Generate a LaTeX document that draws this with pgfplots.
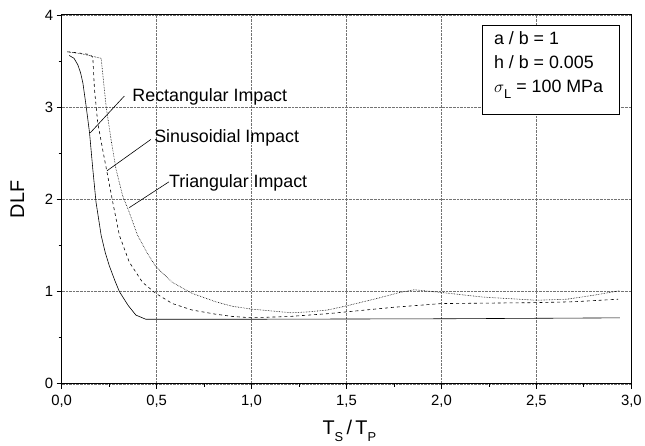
\documentclass[border=0pt]{standalone}
\usepackage{fontspec}
\setmainfont{Liberation Sans}
\usepackage{pgfplots}
\pgfplotsset{compat=1.18}

\newcommand{\sub}[1]{\raisebox{-0.35em}{\fontsize{13}{13}\selectfont #1}}

\begin{document}
\begin{tikzpicture}
\begin{axis}[
  scale only axis,
  width=573bp, height=371bp,
  xmin=0, xmax=3, ymin=0, ymax=4,
  xtick={0,0.5,...,3}, ytick={0,1,2,3,4},
  minor x tick num=1, minor y tick num=1,
  xtick pos=left, ytick pos=left,
  tick align=outside,
  major tick length=5bp, minor tick length=3bp,
  every tick/.style={black, line width=0.8bp},
  axis line style={line width=1bp},
  grid=major,
  major grid style={densely dotted, black!55, line width=0.5bp},
  /pgf/number format/assume math mode=true,
  /pgf/number format/.cd, fixed, fixed zerofill, precision=1, use comma,
  /pgfplots/.cd,
  yticklabel={\pgfmathprintnumber[fixed, precision=0]{\tick}},
  tick label style={font=\fontsize{15}{17}\selectfont},
  xticklabel style={yshift=-3bp},
  xlabel={T\sub{S}\,/\,T\sub{P}},
  ylabel={DLF},
  label style={font=\fontsize{20}{22}\selectfont},
  xlabel style={at={(axis description cs:0.505,-0.128)}, anchor=center},
  ylabel style={at={(axis description cs:-0.078,0.5)}, anchor=center},
  clip=false,
]
% Rectangular impact
\addplot[black, line width=0.6bp] coordinates {
  (0.04,3.56)(0.065,3.53)(0.085,3.46)(0.1,3.37)(0.112,3.26)(0.129,3.01)
  (0.147,2.72)(0.164,2.33)(0.181,1.97)(0.208,1.61)(0.23,1.42)(0.251,1.28)
  (0.28,1.12)(0.304,1.0)(0.35,0.85)(0.391,0.745)(0.443,0.70)
  (1.0,0.70)(2.0,0.705)(2.94,0.715)
};
% Sinusoidal impact
\addplot[black, dashed, line width=0.6bp] coordinates {
  (0.03,3.6)(0.08,3.59)(0.15,3.57)(0.164,3.54)(0.173,3.19)(0.19,2.83)
  (0.216,2.54)(0.243,2.25)(0.269,1.97)(0.304,1.61)(0.356,1.32)(0.426,1.10)
  (0.496,0.98)(0.583,0.87)(0.687,0.80)(0.81,0.755)(0.9,0.73)
  (1.0,0.716)(1.2,0.73)(1.4,0.76)(1.5,0.78)(1.75,0.83)(2.0,0.87)(2.5,0.88)
  (2.7,0.89)(2.93,0.917)
};
% Triangular impact
\addplot[black, densely dotted, line width=0.6bp] coordinates {
  (0.03,3.6)(0.1,3.58)(0.208,3.53)(0.216,3.37)(0.234,3.01)(0.26,2.65)
  (0.286,2.33)(0.321,2.04)(0.356,1.86)(0.40,1.61)(0.45,1.42)(0.496,1.27)
  (0.583,1.10)(0.687,0.98)(0.81,0.89)(0.9,0.84)(1.0,0.81)(1.21,0.77)
  (1.3,0.78)(1.4,0.80)(1.5,0.845)(1.65,0.92)(1.78,0.99)(1.857,1.02)(2.0,0.99)
  (2.22,0.94)(2.5,0.906)(2.66,0.917)(2.8,0.96)(2.94,1.01)
};

% curve labels with leader lines
\draw[line width=0.6bp] (axis cs:0.33,3.12) -- (axis cs:0.150,2.72);
\draw[line width=0.6bp] (axis cs:0.47,2.65) -- (axis cs:0.239,2.31);
\draw[line width=0.6bp] (axis cs:0.565,2.19) -- (axis cs:0.356,1.91);
\node[anchor=base west, inner sep=0pt, font=\fontsize{18}{20}\selectfont]
  at (axis cs:0.372,3.06) {Rectangular Impact};
\node[anchor=base west, inner sep=0pt, font=\fontsize{18}{20}\selectfont]
  at (axis cs:0.487,2.615) {Sinusoidial Impact};
\node[anchor=base west, inner sep=0pt, font=\fontsize{18}{20}\selectfont]
  at (axis cs:0.565,2.13) {Triangular Impact};

% parameter box
\draw[fill=white, line width=0.8bp] (axis cs:2.218,3.888) rectangle (axis cs:2.935,2.92);
\node[anchor=north west, align=left, inner sep=0pt,
  font=\fontsize{18}{24}\selectfont] at (axis cs:2.276,3.82)
  {a / b = 1\\h / b = 0.005\\$\sigma$\sub{L} = 100 MPa};

% page margins as in the reference
\path (rel axis cs:0,0) ++(-62bp,-62bp);
\path (rel axis cs:1,1) ++(10bp,15bp);
\end{axis}
\end{tikzpicture}
\end{document}
